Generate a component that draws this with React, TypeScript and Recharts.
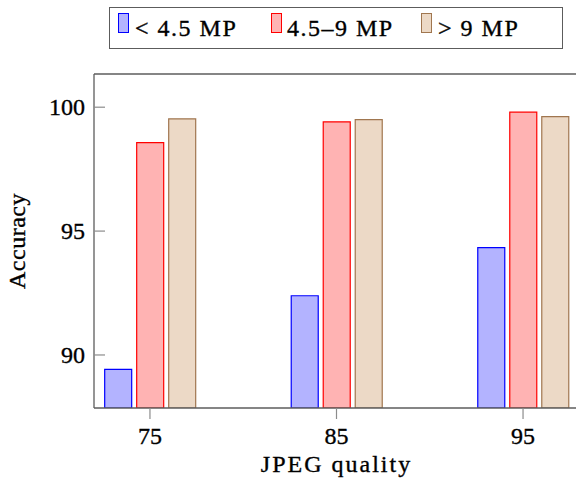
import React from "react";
import { BarChart, Bar, XAxis, YAxis } from "recharts";

// JPEG quality levels on the x axis
const qualities = [75, 85, 95];

// accuracy per image size group
const smallImages = [89.42, 92.39, 94.33];
const mediumImages = [98.57, 99.41, 99.8];
const largeImages = [99.53, 99.5, 99.62];

const xTicks = [75, 85, 95];
const yTicks = [90, 95, 100];

const seriesNames = ["< 4.5 MP", "4.5–9 MP", "> 9 MP"];

const data = qualities.map((q, i) => ({
  quality: q,
  small: smallImages[i],
  medium: mediumImages[i],
  large: largeImages[i],
}));

const FONT = '"Liberation Serif", "Times New Roman", serif';
const FRAME = "#5c5c5c";
const TICK = "#8c8c8c";

// slightly heavier glyphs, closer to the TeX look
const textStyle = {
  fontFamily: FONT,
  fontSize: 24,
  fill: "#000",
  stroke: "#000",
  strokeWidth: 0.35,
};

const colors = {
  small: { fill: "#b3b3ff", stroke: "#0000ff" },
  medium: { fill: "#ffb3b3", stroke: "#ff0000" },
  large: { fill: "#ecd9c6", stroke: "#a0764f" },
};

// left y ticks: label outside, tick mark pointing into the plot
const LeftTick = (props: any) => {
  const { x, y, payload } = props;
  const axisX = x + 9;
  return (
    <g>
      <line x1={axisX} x2={axisX + 11} y1={y} y2={y} stroke={TICK} strokeWidth={1.2} />
      <text x={x} y={y} dy={8} textAnchor="end" style={textStyle}>
        {payload.value}
      </text>
    </g>
  );
};

const YLabel = (props: any) => {
  const { viewBox } = props;
  const cx = 17;
  const cy = viewBox.y + viewBox.height / 2;
  return (
    <text
      x={cx}
      y={cy}
      dy={8}
      textAnchor="middle"
      transform={`rotate(-90, ${cx}, ${cy})`}
      style={{ ...textStyle, letterSpacing: 0.5 }}
    >
      Accuracy
    </text>
  );
};

const legendItems = [
  { key: "small", swatch: 118, text: 135 },
  { key: "medium", swatch: 271, text: 287 },
  { key: "large", swatch: 421, text: 438 },
] as const;

function LegendBox() {
  return (
    <div
      style={{
        position: "absolute",
        left: 109,
        top: 7,
        width: 454,
        height: 42,
        boxSizing: "border-box",
        border: `1.3px solid ${FRAME}`,
        background: "#fff",
      }}
    >
      {legendItems.map((item, i) => (
        <React.Fragment key={item.key}>
          <div
            style={{
              position: "absolute",
              left: item.swatch - 110,
              top: 13 - 8,
              width: 11,
              height: 20,
              boxSizing: "border-box",
              background: colors[item.key].fill,
              border: `1.2px solid ${colors[item.key].stroke}`,
            }}
          />
          <div
            style={{
              position: "absolute",
              left: item.text - 110,
              top: 16 - 8,
              lineHeight: "24px",
              fontFamily: FONT,
              fontSize: 24,
              letterSpacing: 1.5,
              whiteSpace: "pre",
              color: "#000",
              WebkitTextStroke: "0.35px #000",
            }}
          >
            {seriesNames[i]}
          </div>
        </React.Fragment>
      ))}
    </div>
  );
}

export default function App() {
  return (
    <div
      style={{
        position: "absolute",
        left: 0,
        top: 0,
        width: 576,
        height: 483,
        overflow: "hidden",
        background: "#fff",
      }}
    >
      <BarChart
        width={590}
        height={483}
        data={data}
        margin={{ top: 0, right: 11, bottom: 0, left: 0 }}
        barSize={27}
        barGap={5}
      >
        <XAxis
          xAxisId="bottom"
          dataKey="quality"
          type="number"
          domain={[72, 98]}
          allowDataOverflow
          ticks={xTicks}
          height={75}
          tickSize={11}
          tickMargin={8}
          axisLine={{ stroke: FRAME, strokeWidth: 1.3 }}
          tickLine={{ stroke: TICK, strokeWidth: 1.2 }}
          tick={textStyle}
          label={{
            value: "JPEG quality",
            position: "insideBottom",
            offset: 11,
            style: { ...textStyle, letterSpacing: 2 },
          }}
        />
        <XAxis
          xAxisId="top"
          orientation="top"
          type="number"
          domain={[72, 98]}
          allowDataOverflow
          ticks={xTicks}
          height={74}
          tickSize={11}
          tick={false}
          axisLine={{ stroke: FRAME, strokeWidth: 1.3 }}
          tickLine={{ stroke: TICK, strokeWidth: 1.2 }}
        />
        <YAxis
          yAxisId="left"
          type="number"
          domain={[87.86, 101.34]}
          allowDataOverflow
          ticks={yTicks}
          width={94}
          tickSize={0}
          tickMargin={9}
          tickLine={false}
          axisLine={{ stroke: FRAME, strokeWidth: 1.3 }}
          tick={<LeftTick />}
          label={<YLabel />}
        />
        <YAxis
          yAxisId="right"
          orientation="right"
          type="number"
          domain={[87.86, 101.34]}
          allowDataOverflow
          ticks={yTicks}
          width={10}
          mirror
          tickSize={11}
          tick={false}
          axisLine={{ stroke: FRAME, strokeWidth: 1.3 }}
          tickLine={{ stroke: TICK, strokeWidth: 1.2 }}
        />
        {(["small", "medium", "large"] as const).map((k) => (
          <Bar
            key={k}
            dataKey={k}
            xAxisId="bottom"
            yAxisId="left"
            fill={colors[k].fill}
            stroke={colors[k].stroke}
            strokeWidth={1.2}
            isAnimationActive={false}
          />
        ))}
      </BarChart>
      <LegendBox />
    </div>
  );
}
